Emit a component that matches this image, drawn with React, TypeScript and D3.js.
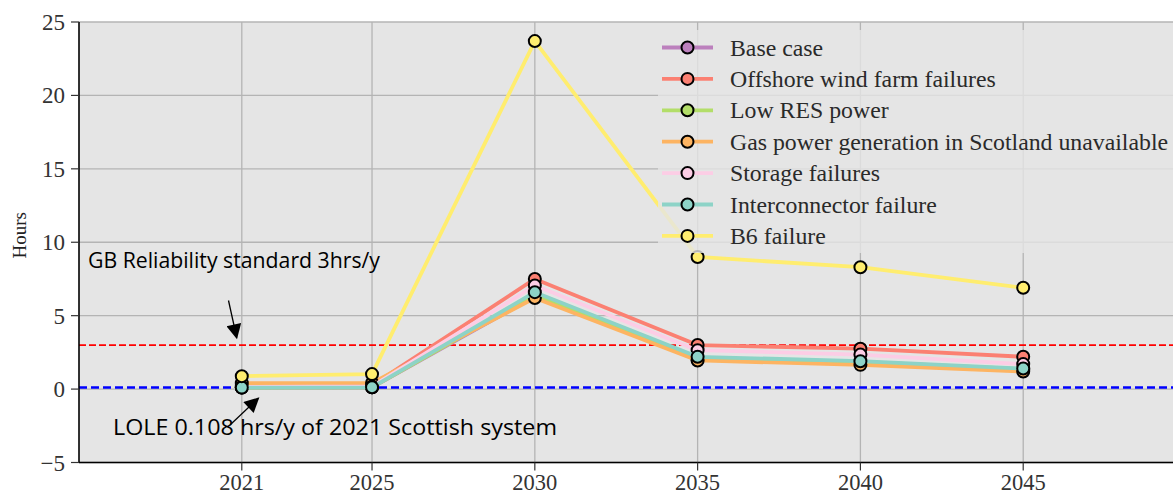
import React from "react";
import * as d3 from "d3";

const years = [2021, 2025, 2030, 2035, 2040, 2045];
const seriesNames = [
  "Base case",
  "Offshore wind farm failures",
  "Low RES power",
  "Gas power generation in Scotland unavailable",
  "Storage failures",
  "Interconnector failure",
  "B6 failure",
];
const baseCase = [0.1, 0.12, 6.3, 2.0, 1.8, 1.3];
const offshore = [0.2, 0.25, 7.5, 3.0, 2.75, 2.2];
const lowRES = [0.1, 0.12, 6.4, 2.1, 1.85, 1.35];
const gasUnavailable = [0.4, 0.42, 6.2, 1.95, 1.65, 1.2];
const storage = [0.15, 0.18, 7.05, 2.65, 2.35, 1.7];
const interconnector = [0.1, 0.12, 6.6, 2.2, 1.9, 1.4];
const b6 = [0.88, 1.02, 23.7, 9.0, 8.3, 6.9];
const seriesColors = ["#bc80bd", "#fb8072", "#b3de69", "#fdb462", "#fccde5", "#8dd3c7", "#ffed6f"];
const yTicks = [-5, 0, 5, 10, 15, 20, 25];
const xTicks = [2021, 2025, 2030, 2035, 2040, 2045];
const reliabilityStandard = 3;
const loleScotland = 0.108;

const W = 1173;
const H = 495;
const left = 79;
const top = 22;
const bottom = 462.5;

export default function App() {
  const x = d3.scaleLinear().domain([2016, 2050]).range([left, 1186]);
  const y = d3.scaleLinear().domain([-5, 25]).range([bottom, top]);
  const allSeries = [baseCase, offshore, lowRES, gasUnavailable, storage, interconnector, b6];
  const line = d3
    .line<[number, number]>()
    .x((d) => x(d[0]))
    .y((d) => y(d[1]));
  const serif = "'Liberation Serif', 'DejaVu Serif', serif";
  const sans = "'Open Sans', 'Liberation Sans', sans-serif";
  const legendRowY = (i: number) => 47.5 + i * 31.4;

  return (
    <svg
      width={W}
      height={H}
      style={{ position: "absolute", left: 0, top: 0, background: "#fff" }}
    >
      <defs>
        <marker id="arrowHead" viewBox="0 0 10 10" refX="9" refY="5" markerWidth="17" markerHeight="15" markerUnits="userSpaceOnUse" orient="auto">
          <path d="M0,0 L10,5 L0,10 z" fill="#000" />
        </marker>
      </defs>
      <rect x={left} y={top} width={W - left} height={bottom - top} fill="#e5e5e5" />
      {/* grid */}
      {yTicks.map((t) => (
        <line key={"gy" + t} x1={left} x2={W} y1={y(t)} y2={y(t)} stroke="#b4b4b4" strokeWidth={1.3} />
      ))}
      {xTicks.map((t) => (
        <line key={"gx" + t} x1={x(t)} x2={x(t)} y1={top} y2={bottom} stroke="#b4b4b4" strokeWidth={1.3} />
      ))}
      {/* reference lines */}
      <line x1={left} x2={W} y1={y(reliabilityStandard)} y2={y(reliabilityStandard)} stroke="#ff0000" strokeWidth={1.7} strokeDasharray="7,3" />
      <line x1={left} x2={W} y1={y(loleScotland)} y2={y(loleScotland)} stroke="#0000ff" strokeWidth={2.5} strokeDasharray="8,4" />
      {/* series */}
      {allSeries.map((vals, i) => {
        const pts = years.map((yr, j) => [yr, vals[j]] as [number, number]);
        return (
          <g key={"s" + i}>
            <path d={line(pts) || ""} fill="none" stroke={seriesColors[i]} strokeWidth={3.8} strokeLinejoin="round" />
            {pts.map((p, j) => (
              <circle key={j} cx={x(p[0])} cy={y(p[1])} r={6} fill={seriesColors[i]} stroke="#000" strokeWidth={2} />
            ))}
          </g>
        );
      })}
      {/* legend */}
      <rect x={658} y={30} width={W - 658} height={223} fill="#e5e5e5" opacity={0.8} />
      {seriesNames.map((name, i) => (
        <g key={"l" + i}>
          <line x1={662} x2={713} y1={legendRowY(i)} y2={legendRowY(i)} stroke={seriesColors[i]} strokeWidth={3.8} />
          <circle cx={687.5} cy={legendRowY(i)} r={6} fill={seriesColors[i]} stroke="#000" strokeWidth={2} />
          <text x={730} y={legendRowY(i) + 8} fontFamily={serif} fontSize={23.8} fill="#2a2a2a">
            {name}
          </text>
        </g>
      ))}
      {/* spines */}
      <line x1={left} x2={left} y1={top} y2={bottom} stroke="#000" strokeWidth={1.6} />
      <line x1={left} x2={W} y1={bottom} y2={bottom} stroke="#000" strokeWidth={1.6} />
      {/* y ticks */}
      {yTicks.map((t) => (
        <g key={"ty" + t}>
          <line x1={left - 8} x2={left} y1={y(t)} y2={y(t)} stroke="#333" strokeWidth={1.2} />
          <text x={left - 14} y={y(t) + 8} textAnchor="end" fontFamily={serif} fontSize={23} fill="#333">
            {t < 0 ? "\u2212" + Math.abs(t) : String(t)}
          </text>
        </g>
      ))}
      {/* x ticks */}
      {xTicks.map((t) => (
        <g key={"tx" + t}>
          <line x1={x(t)} x2={x(t)} y1={bottom} y2={bottom + 8} stroke="#333" strokeWidth={1.2} />
          <text x={x(t)} y={490} textAnchor="middle" fontFamily={serif} fontSize={22.5} fill="#333">
            {String(t)}
          </text>
        </g>
      ))}
      <text transform={`translate(26,${(top + bottom) / 2 - 7}) rotate(-90)`} textAnchor="middle" fontFamily={serif} fontSize={19} fill="#222">
        Hours
      </text>
      {/* annotations */}
      <text x={88} y={268} fontFamily={sans} fontSize={21} fill="#000" textLength={292} lengthAdjust="spacingAndGlyphs">
        GB Reliability standard 3hrs/y
      </text>
      <line x1={228.5} y1={300.5} x2={236.7} y2={337.7} stroke="#000" strokeWidth={1.3} markerEnd="url(#arrowHead)" />
      <line x1={230} y1={425} x2={258.3} y2={398.3} stroke="#000" strokeWidth={1.3} markerEnd="url(#arrowHead)" />
      <text x={113} y={435} fontFamily={sans} fontSize={21} fill="#000" textLength={444} lengthAdjust="spacingAndGlyphs">
        LOLE 0.108 hrs/y of 2021 Scottish system
      </text>
    </svg>
  );
}
